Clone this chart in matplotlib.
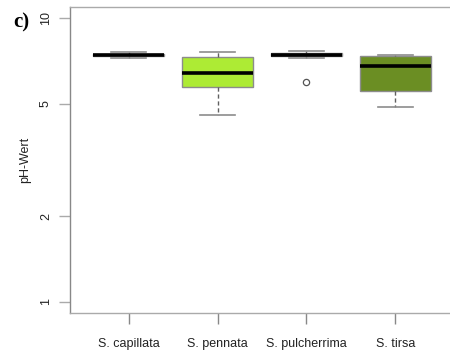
import matplotlib
matplotlib.use("Agg")
import matplotlib.pyplot as plt

species = ["S. capillata", "S. pennata", "S. pulcherrima", "S. tirsa"]
whisker_low = [7.26, 4.55, 7.24, 4.85]
quartile_1 = [7.38, 5.73, 7.35, 5.55]
medians = [7.43, 6.39, 7.45, 6.78]
quartile_3 = [7.48, 7.31, 7.55, 7.35]
whisker_high = [7.59, 7.61, 7.65, 7.41]
outliers = [[], [], [5.94], []]
box_colors = ["#b8b8b8", "#adeb34", "#3d6b1e", "#6b8e23"]
y_ticks = [1, 2, 5, 10]

plt.rcParams["font.family"] = ["Liberation Sans", "DejaVu Sans"]

fig = plt.figure(figsize=(4.5, 3.57), dpi=100)
ax = fig.add_axes([70 / 450, 44 / 357, 384 / 450, 306 / 357])

stats = []
for i, name in enumerate(species):
    stats.append(dict(label=name, whislo=whisker_low[i], q1=quartile_1[i],
                      med=medians[i], q3=quartile_3[i], whishi=whisker_high[i],
                      fliers=outliers[i]))

grey = "#8c8c8c"
parts = ax.bxp(stats, positions=range(1, 5), widths=0.8, patch_artist=True,
               boxprops=dict(edgecolor=grey, linewidth=1.0),
               medianprops=dict(color="black", linewidth=2.6),
               whiskerprops=dict(color="#606060", linewidth=1.0, linestyle=(0, (3, 2))),
               capprops=dict(color=grey, linewidth=1.2),
               flierprops=dict(marker="o", markersize=4.5, markerfacecolor="none",
                               markeredgecolor="#555555", markeredgewidth=0.9),
               capwidths=0.4)
for patch, c in zip(parts["boxes"], box_colors):
    patch.set_facecolor(c)

ax.set_yscale("log")
ax.set_ylim(10 ** -0.04, 10 ** 1.04)
ax.set_xlim(0.34, 4.66)
ax.set_yticks(y_ticks)
ax.set_yticklabels([str(t) for t in y_ticks], rotation=90, va="center")
ax.minorticks_off()
ax.tick_params(axis="y", length=8, width=1.0, color="#aaaaaa", labelsize=9,
               pad=5, labelcolor="#222222")
ax.tick_params(axis="x", length=8, width=1.0, color="#888888", labelsize=9,
               pad=10, labelcolor="#222222")
for s in ax.spines.values():
    s.set_color("#aaaaaa")
    s.set_linewidth(1.0)
ax.spines["left"].set_color("#888888")

ax.set_ylabel("pH-Wert", fontsize=9, color="#222222", labelpad=6)
fig.text(21 / 450, 1 - 22 / 357, "c)", fontsize=15, fontweight="bold",
         family="Liberation Serif", ha="center", va="center")

fig.savefig("out.png", dpi=100)
